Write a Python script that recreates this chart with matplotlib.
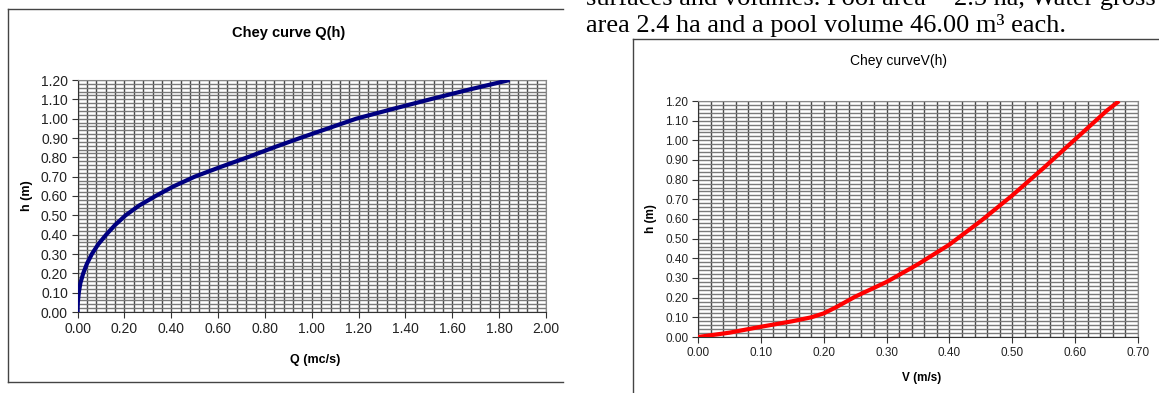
import matplotlib
matplotlib.use("Agg")
import matplotlib.pyplot as plt
from matplotlib.lines import Line2D
from matplotlib.ticker import MultipleLocator, FormatStrFormatter

# Chey curve Q(h): discharge
h_q = [0.00, 0.02, 0.05, 0.10, 0.15, 0.20, 0.25, 0.30, 0.35, 0.40, 0.45, 0.50, 0.55,
       0.60, 0.65, 0.70, 0.75, 0.80, 0.85, 0.90, 0.95, 1.00, 1.05, 1.10, 1.15, 1.20]
q = [0.000, 0.000, 0.001, 0.005, 0.012, 0.024, 0.040, 0.061, 0.088, 0.122, 0.160, 0.205, 0.262,
     0.333, 0.410, 0.500, 0.610, 0.725, 0.835, 0.950, 1.070, 1.190, 1.345, 1.505, 1.670, 1.845]

# Chey curve V(h): velocity
v = [0.00, 0.05, 0.10, 0.15, 0.18, 0.20, 0.22, 0.25, 0.30, 0.35, 0.40, 0.45, 0.50,
     0.55, 0.60, 0.65, 0.67]
h_v = [0.000, 0.022, 0.052, 0.080, 0.100, 0.120, 0.152, 0.205, 0.280, 0.370, 0.470, 0.590, 0.720,
       0.860, 1.005, 1.150, 1.200]

W, H = 1159, 393
plt.rcParams['font.family'] = ['Liberation Sans', 'DejaVu Sans']
fig = plt.figure(figsize=(W / 100, H / 100), dpi=100)


def fx(px):
    return px / W


def fy(py):
    return 1 - py / H


def style_axes(ax, xmax, xmaj, xmin, fs):
    ax.set_xlim(0, xmax)
    ax.set_ylim(0, 1.2)
    ax.xaxis.set_major_locator(MultipleLocator(xmaj))
    ax.xaxis.set_minor_locator(MultipleLocator(xmin))
    ax.yaxis.set_major_locator(MultipleLocator(0.1))
    ax.yaxis.set_minor_locator(MultipleLocator(0.02))
    ax.xaxis.set_major_formatter(FormatStrFormatter('%.2f'))
    ax.yaxis.set_major_formatter(FormatStrFormatter('%.2f'))
    ax.grid(True, which='both', axis='x', color='#4a4a4a', lw=1.0)
    ax.grid(True, which='both', axis='y', color='#7a7a7a', lw=1.0)
    ax.set_axisbelow(True)
    ax.tick_params(which='major', direction='out', length=4, width=0.8,
                   color='#333333', labelsize=fs, labelcolor='#222222', pad=3)
    ax.tick_params(which='minor', length=0)
    for s in ['top', 'right']:
        ax.spines[s].set_color('#888888')
    for s in ['left', 'bottom']:
        ax.spines[s].set_color('#333333')


# left chart
ax1 = fig.add_axes([fx(77.6), fy(312), fx(468.4), 232 / H])
style_axes(ax1, 2.0, 0.2, 0.04, 10)
ax1.plot(q, h_q, color='#000080', lw=3, solid_capstyle='butt', zorder=3)
ax1.set_xlabel('Q (mc/s)', fontsize=9, fontweight='bold')
ax1.set_ylabel('h (m)', fontsize=9, fontweight='bold')
ax1.xaxis.set_label_coords(0.507, -0.18)
ax1.yaxis.set_label_coords(-0.095, 0.5)
fig.text(fx(289), fy(33), 'Chey curve Q(h)', ha='center', va='center',
         fontsize=10.5, fontweight='bold')

# right chart
ax2 = fig.add_axes([fx(698), fy(337), fx(440), 236 / H])
style_axes(ax2, 0.7, 0.1, 0.02, 8.5)
ax2.plot(v, h_v, color='#ff0000', lw=3, solid_capstyle='butt', zorder=3)
ax2.set_xlabel('V (m/s)', fontsize=8.5, fontweight='bold')
ax2.set_ylabel('h (m)', fontsize=8.5, fontweight='bold')
ax2.xaxis.set_label_coords(0.509, -0.148)
ax2.yaxis.set_label_coords(-0.093, 0.5)
fig.text(fx(898), fy(61), 'Chey curveV(h)', ha='center', va='center', fontsize=10)

# chart frames
frame = dict(color='#444444', lw=1, transform=fig.transFigure)
fig.add_artist(Line2D([fx(8), fx(8)], [fy(9), fy(382)], **frame))
fig.add_artist(Line2D([fx(8), fx(563)], [fy(9), fy(9)], **frame))
fig.add_artist(Line2D([fx(8), fx(563)], [fy(382), fy(382)], **frame))
fig.add_artist(Line2D([fx(633), fx(633)], [fy(39), fy(393)], **frame))
fig.add_artist(Line2D([fx(633), fx(1159)], [fy(39), fy(39)], **frame))

# surrounding document text
fig.text(fx(586), fy(5), 'surfaces and volumes. Pool area = 2.5 ha, Water gross',
         family='Liberation Serif', fontsize=19, va='baseline')
fig.text(fx(586), fy(32), 'area 2.4 ha and a pool volume 46.00 m³ each.',
         family='Liberation Serif', fontsize=19, va='baseline')

fig.savefig('out.png', dpi=100)
